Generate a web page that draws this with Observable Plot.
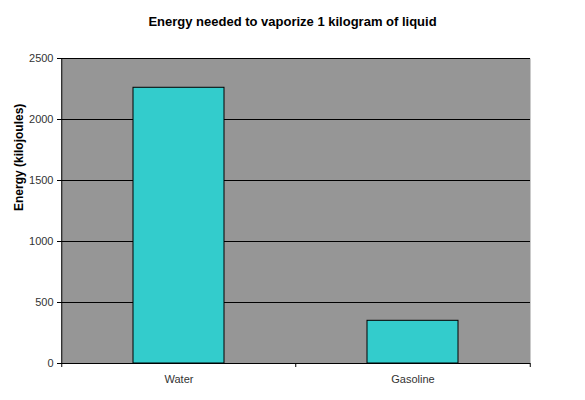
<!DOCTYPE html>
<html>
<head>
<meta charset="utf-8">
<script src="https://cdn.jsdelivr.net/npm/d3@7"></script>
<script src="https://cdn.jsdelivr.net/npm/@observablehq/plot@0.6"></script>
<style>
  body { margin: 0; background: #fff; }
  #title { height: 40px; width: 585px; text-align: center; font: bold 13px "Liberation Sans", Arial, sans-serif; line-height: 44px; color: #000; }
</style>
</head>
<body>
<div id="title">Energy needed to vaporize 1 kilogram of liquid</div>
<div id="chart"></div>
<script>
const categories = ["Water", "Gasoline"];
const energy = [2260, 350];
const yTicks = [0, 500, 1000, 1500, 2000, 2500];

const data = categories.map((c, i) => ({category: c, energy: energy[i]}));

const W = 585, ML = 61, MR = 55;
const step = (W - ML - MR) / categories.length;

const chart = Plot.plot({
  width: W,
  height: 360,
  marginLeft: ML,
  marginRight: MR,
  marginTop: 18,
  marginBottom: 37,
  style: {fontFamily: "'Liberation Sans', Arial, sans-serif", fontSize: "11px", color: "#333", background: "#fff", overflow: "visible"},
  x: {domain: categories, paddingInner: 0.61, paddingOuter: 0.305, label: null},
  y: {domain: [0, 2500], label: null},
  marks: [
    Plot.frame({fill: "#969696", stroke: null}),
    Plot.gridY(yTicks, {stroke: "#000", strokeOpacity: 1, strokeWidth: 1}),
    Plot.barY(data, {x: "category", y: "energy", fill: "#33CCCC", stroke: "#000", strokeWidth: 1}),
    Plot.axisY({ticks: yTicks, tickFormat: d3.format("d"), tickSize: 4, tickPadding: 4, stroke: "#000", fill: "#333", label: null}),
    Plot.ruleX([0], {x: () => categories[0], dx: -step / 2, y1: 0, y2: 2500, stroke: "#000"}),
    Plot.ruleY([0], {stroke: "#000"}),
    Plot.axisX({ticks: categories, tickSize: 4, text: null, dx: -step / 2, stroke: "#000", label: null}),
    Plot.axisX({ticks: [categories[categories.length - 1]], tickSize: 4, text: null, dx: step / 2, stroke: "#000", label: null}),
    Plot.axisX({ticks: categories, tickSize: 0, tickPadding: 12, fill: "#333", label: null}),
    Plot.text(["Energy (kilojoules)"], {frameAnchor: "left", dx: -42, rotate: -90, fontWeight: "bold", fontSize: 12, fill: "#000"})
  ]
});
document.getElementById("chart").appendChild(chart);
</script>
</body>
</html>
